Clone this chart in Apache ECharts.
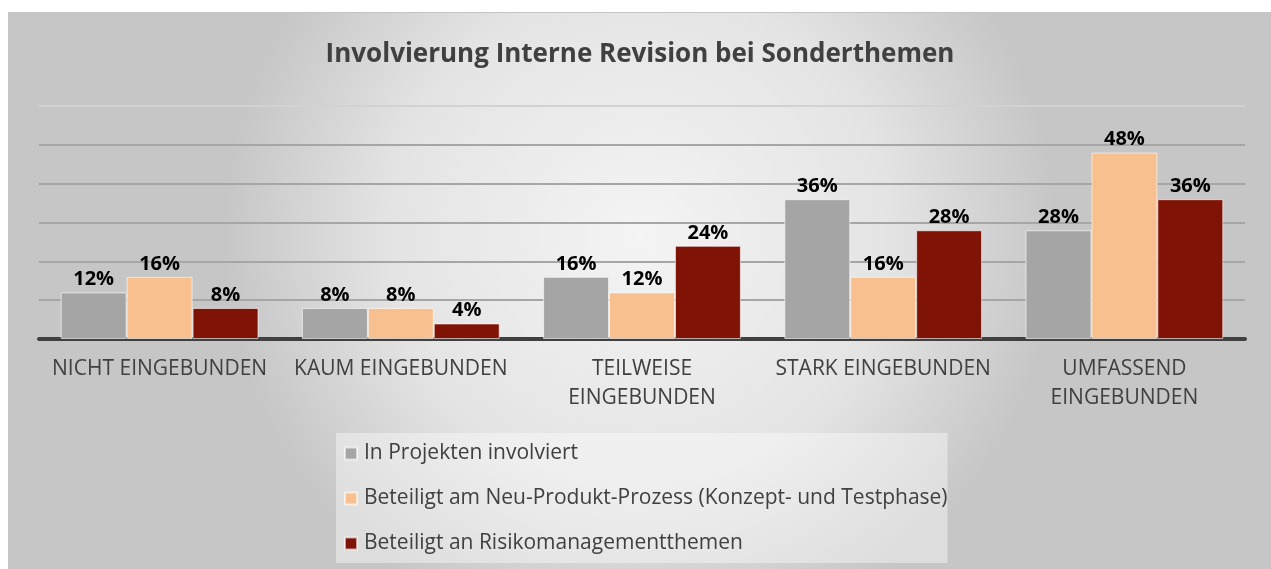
<!DOCTYPE html>
<html>
<head>
<meta charset="utf-8">
<script src="https://cdn.jsdelivr.net/npm/echarts@6/dist/echarts.min.js"></script>
<style>
  html, body { margin: 0; padding: 0; background: #ffffff; }
  #main { position: absolute; left: 8px; top: 12px; width: 1263px; height: 557px;
          border-top: 1px solid #c4c4c4; border-left: 1px solid #c4c4c4; box-sizing: border-box; }
</style>
</head>
<body>
<div id="main"></div>
<script>
var categories = ['NICHT EINGEBUNDEN', 'KAUM EINGEBUNDEN', 'TEILWEISE\nEINGEBUNDEN', 'STARK EINGEBUNDEN', 'UMFASSEND\nEINGEBUNDEN'];
var seriesNames = ['In Projekten involviert', 'Beteiligt am Neu-Produkt-Prozess (Konzept- und Testphase)', 'Beteiligt an Risikomanagementthemen'];
var projekte = [12, 8, 16, 36, 28];
var neuProdukt = [16, 8, 12, 16, 48];
var risiko = [8, 4, 24, 28, 36];
var colors = ['#a5a5a5', '#f8c08f', '#7f1306'];

var myChart = echarts.init(document.getElementById('main'));

function makeSeries(name, data, color) {
    return {
        name: name,
        type: 'bar',
        data: data,
        barGap: 0,
        barCategoryGap: '18%',
        itemStyle: { color: color, borderColor: 'rgba(255,255,255,0.6)', borderWidth: 1 },
        label: {
            show: true,
            position: 'top',
            distance: 3,
            formatter: '{c}%',
            color: '#000000',
            fontSize: 20,
            fontWeight: 'bold',
            fontFamily: 'Open Sans'
        }
    };
}

var option = {
    backgroundColor: new echarts.graphic.RadialGradient(0.5, 0.4, 0.75, [
        { offset: 0, color: '#f4f4f4' },
        { offset: 0.6, color: '#e4e4e4' },
        { offset: 1, color: '#c6c6c6' }
    ]),
    title: {
        text: 'Involvierung Interne Revision bei Sonderthemen',
        left: 'center',
        top: 24,
        textStyle: { color: '#404040', fontSize: 26, fontWeight: 'bold', fontFamily: 'Open Sans' }
    },
    legend: {
        data: seriesNames,
        orient: 'vertical',
        left: 327,
        top: 420,
        padding: [10, 0, 9, 8],
        itemGap: 24,
        itemWidth: 12,
        itemHeight: 12,
        icon: 'rect',
        backgroundColor: 'rgba(255,255,255,0.4)',
        textStyle: { color: '#404040', fontSize: 21, lineHeight: 21, padding: [0, 0, 0, 2], fontFamily: 'Open Sans' }
    },
    grid: { left: 30, right: 26, top: 93, bottom: 230 },
    xAxis: {
        type: 'category',
        data: categories,
        axisLine: { lineStyle: { color: '#404040', width: 4 } },
        axisTick: { show: false },
        axisLabel: { color: '#404040', fontSize: 21, lineHeight: 29, margin: 16, fontFamily: 'Open Sans', interval: 0 }
    },
    yAxis: {
        type: 'value',
        min: 0,
        max: 60,
        interval: 10,
        axisLabel: { show: false },
        axisLine: { show: false },
        axisTick: { show: false },
        splitLine: { lineStyle: { color: ['#a6a6a6', '#a6a6a6', '#a6a6a6', '#a6a6a6', '#a6a6a6', '#a6a6a6', '#d2d2d2'], width: 2 } }
    },
    series: [
        makeSeries(seriesNames[0], projekte, colors[0]),
        makeSeries(seriesNames[1], neuProdukt, colors[1]),
        makeSeries(seriesNames[2], risiko, colors[2])
    ]
};
myChart.setOption(option);
</script>
</body>
</html>
